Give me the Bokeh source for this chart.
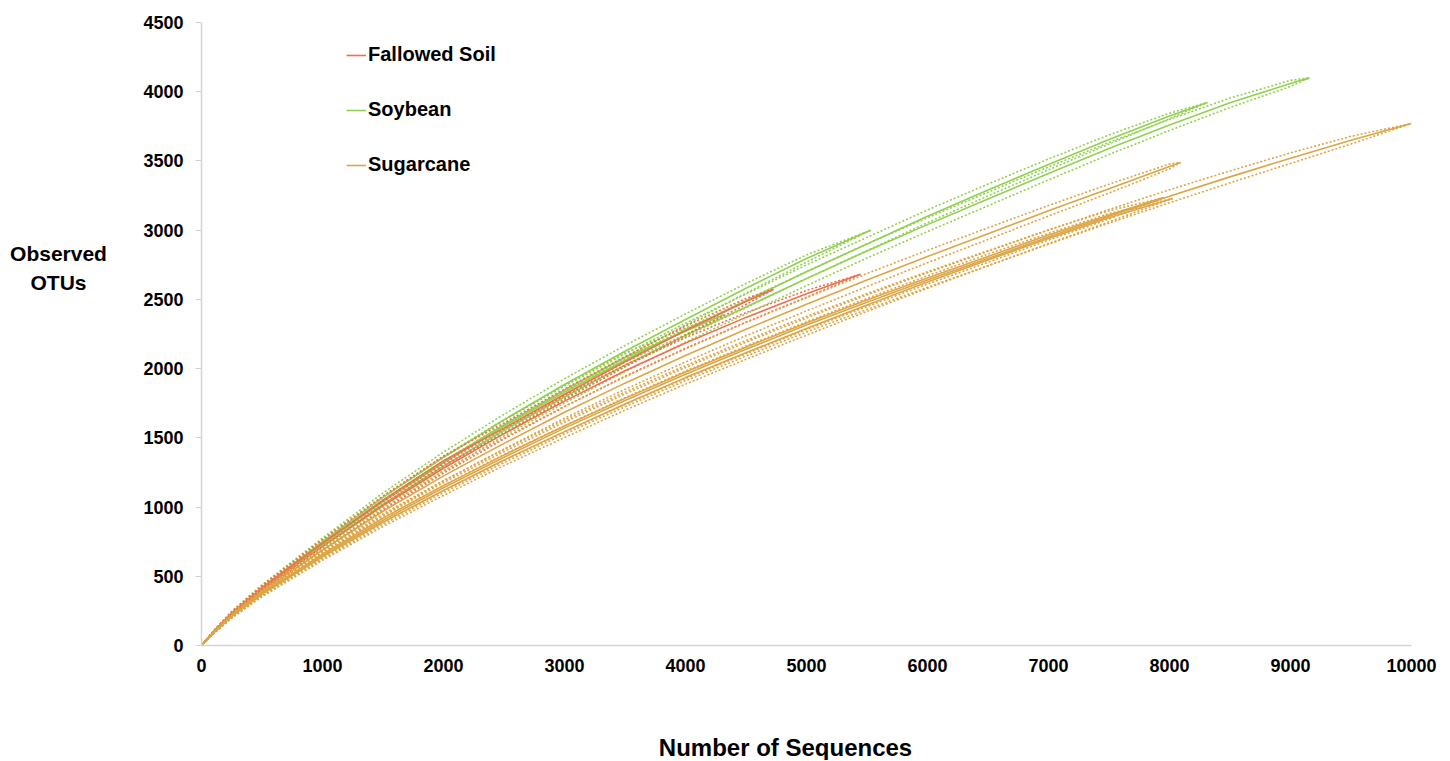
from bokeh.plotting import figure
from bokeh.models import Range1d, Legend, LegendItem, FixedTicker, Label
from bokeh.layouts import row, column
from bokeh.embed import file_html
from bokeh.resources import INLINE

# ---------------- data ----------------
groups = ["Fallowed Soil", "Soybean", "Sugarcane"]
colors = {"Fallowed Soil": "#F36E4C", "Soybean": "#92D050", "Sugarcane": "#DDA545"}

x_ticks = [0, 1000, 2000, 3000, 4000, 5000, 6000, 7000, 8000, 9000, 10000]
y_ticks = [0, 500, 1000, 1500, 2000, 2500, 3000, 3500, 4000, 4500]

# Soybean samples
soy1_x = [0, 100, 250, 500, 1000, 1500, 2000, 2500, 3000, 3500, 4000, 4500, 5000, 5530]
soy1_y = [0, 100, 235, 420, 750, 1070, 1360, 1630, 1885, 2125, 2355, 2580, 2795, 3000]
soy1_ci = [0, 6, 12, 18, 26, 32, 37, 40, 42, 42, 40, 35, 26, 0]

soy2_x = [0, 100, 250, 500, 1000, 1500, 2000, 2500, 3000, 3500, 4000, 4500, 5000, 5500,
          6000, 6500, 7000, 7500, 8000, 8314]
soy2_y = [0, 98, 228, 410, 730, 1040, 1320, 1585, 1830, 2060, 2280, 2490, 2700, 2900,
          3100, 3290, 3475, 3655, 3825, 3922]
soy2_ci = [0, 6, 12, 18, 26, 32, 37, 41, 44, 46, 48, 49, 49, 48, 46, 43, 39, 33, 20, 0]

soy3_x = [0, 100, 250, 500, 1000, 1500, 2000, 2500, 3000, 3500, 4000, 4500, 5000, 5500,
          6000, 6500, 7000, 7500, 8000, 8500, 9000, 9157]
soy3_y = [0, 97, 225, 405, 720, 1020, 1295, 1555, 1795, 2025, 2240, 2445, 2650, 2850,
          3040, 3225, 3410, 3590, 3760, 3920, 4060, 4100]
soy3_ci = [0, 6, 12, 18, 26, 32, 37, 41, 44, 47, 49, 50, 51, 51, 50, 49, 47, 44, 40, 34, 22, 0]

soy4_x = [0, 100, 250, 500, 1000, 1500, 2000, 2500, 3000, 3500, 4000, 4320]
soy4_y = [0, 99, 230, 412, 735, 1045, 1330, 1595, 1845, 2080, 2270, 2390]
soy4_ci = [0, 6, 12, 18, 26, 31, 35, 37, 37, 34, 24, 0]

# Fallowed soil samples
fal1_x = [0, 100, 250, 500, 1000, 1500, 2000, 2500, 3000, 3500, 4000, 4500, 5000, 5446]
fal1_y = [0, 98, 226, 405, 715, 1010, 1280, 1530, 1765, 1985, 2185, 2370, 2540, 2681]
fal1_ci = [0, 6, 12, 18, 25, 31, 35, 38, 40, 40, 38, 34, 25, 0]

fal2_x = [0, 100, 250, 500, 1000, 1500, 2000, 2500, 3000, 3500, 4000, 4500, 4727]
fal2_y = [0, 100, 232, 415, 740, 1050, 1335, 1570, 1815, 2050, 2275, 2485, 2572]
fal2_ci = [0, 6, 12, 18, 25, 30, 34, 37, 38, 37, 33, 22, 0]

# Sugarcane samples
sug1_x = [0, 100, 250, 500, 1000, 1500, 2000, 2500, 3000, 3500, 4000, 4500, 5000, 5500,
          6000, 6500, 7000, 7500, 8000, 8500, 9000, 9500, 10000]
sug1_y = [0, 92, 212, 375, 650, 905, 1140, 1360, 1570, 1770, 1960, 2140, 2315, 2480,
          2640, 2795, 2950, 3100, 3245, 3385, 3520, 3650, 3771]
sug1_ci = [0, 6, 12, 18, 25, 31, 36, 40, 43, 46, 48, 50, 51, 52, 52, 52, 51, 49, 47, 43, 38, 28, 0]

sug2_x = [0, 100, 250, 500, 1000, 1500, 2000, 2500, 3000, 3500, 4000, 4500, 5000, 5500,
          6000, 6500, 7000, 7500, 8000, 8091]
sug2_y = [0, 95, 220, 390, 690, 970, 1225, 1460, 1685, 1895, 2095, 2285, 2465, 2640,
          2810, 2975, 3140, 3300, 3460, 3489]
sug2_ci = [0, 6, 12, 18, 25, 31, 36, 40, 43, 45, 47, 48, 48, 47, 45, 42, 38, 32, 18, 0]

sug3_x = [0, 100, 250, 500, 1000, 1500, 2000, 2500, 3000, 3500, 4000, 4500, 5000, 5500,
          6000, 6500, 7000, 7500, 8025]
sug3_y = [0, 91, 210, 370, 640, 890, 1120, 1340, 1545, 1745, 1935, 2115, 2290, 2460,
          2625, 2785, 2940, 3090, 3229]
sug3_ci = [0, 6, 12, 18, 25, 31, 36, 40, 43, 45, 47, 48, 48, 47, 45, 42, 37, 30, 0]

sug4_x = [0, 100, 250, 500, 1000, 1500, 2000, 2500, 3000, 3500, 4000, 4500, 5000, 5500,
          6000, 6500, 7000, 7500, 7950]
sug4_y = [0, 93, 215, 380, 660, 920, 1155, 1375, 1585, 1785, 1975, 2155, 2330, 2495,
          2655, 2810, 2965, 3110, 3235]
sug4_ci = [0, 6, 12, 18, 25, 31, 36, 40, 43, 45, 47, 48, 48, 47, 45, 42, 37, 30, 0]

series = [
    ("Soybean", soy1_x, soy1_y, soy1_ci),
    ("Soybean", soy2_x, soy2_y, soy2_ci),
    ("Soybean", soy3_x, soy3_y, soy3_ci),
    ("Soybean", soy4_x, soy4_y, soy4_ci),
    ("Fallowed Soil", fal1_x, fal1_y, fal1_ci),
    ("Fallowed Soil", fal2_x, fal2_y, fal2_ci),
    ("Sugarcane", sug1_x, sug1_y, sug1_ci),
    ("Sugarcane", sug2_x, sug2_y, sug2_ci),
    ("Sugarcane", sug3_x, sug3_y, sug3_ci),
    ("Sugarcane", sug4_x, sug4_y, sug4_ci),
]

FONT = "Liberation Sans"


def text_panel(w, h):
    f = figure(width=w, height=h, output_backend="svg", toolbar_location=None,
               x_range=Range1d(0, w), y_range=Range1d(h, 0),
               x_axis_type=None, y_axis_type=None,
               min_border=0, min_border_left=0, min_border_right=0,
               min_border_top=0, min_border_bottom=0)
    f.outline_line_color = None
    f.xgrid.visible = False
    f.ygrid.visible = False
    return f


# ---------------- left panel: y-axis title ----------------
ylab = text_panel(120, 700)
for txt, yy in (("Observed", 259), ("OTUs", 292)):
    ylab.add_layout(Label(x=58, y=yy, text=txt, text_align="center", text_baseline="middle",
                          text_font=FONT, text_font_style="bold", text_font_size="21px",
                          text_color="black"))

# ---------------- main plot ----------------
p = figure(width=1330, height=700, output_backend="svg", toolbar_location=None,
           x_range=Range1d(0, 10000), y_range=Range1d(0, 4500),
           min_border_left=81, min_border_right=39, min_border_top=22, min_border_bottom=55)
p.outline_line_color = None
p.xgrid.visible = False
p.ygrid.visible = False
p.background_fill_color = "white"

first = {}
for g, xs, ys, ci in series:
    c = colors[g]
    up = [y + d for y, d in zip(ys, ci)]
    lo = [y - d for y, d in zip(ys, ci)]
    p.line(xs, up, line_color=c, line_width=1.6, line_dash="2 2")
    p.line(xs, lo, line_color=c, line_width=1.6, line_dash="2 2")
    r = p.line(xs, ys, line_color=c, line_width=1.6)
    if g not in first:
        first[g] = r

for ax in (p.xaxis[0], p.yaxis[0]):
    ax.axis_line_color = "#D4D4D4"
    ax.axis_line_width = 1.5
    ax.major_label_text_font = FONT
    ax.major_label_text_font_style = "bold"
    ax.major_label_text_font_size = "18px"
    ax.major_label_text_color = "black"
    ax.minor_tick_line_color = None

p.xaxis[0].ticker = FixedTicker(ticks=x_ticks)
p.yaxis[0].ticker = FixedTicker(ticks=y_ticks)
p.xaxis[0].major_tick_line_color = None
p.xaxis[0].major_tick_out = 0
p.xaxis[0].major_tick_in = 0
p.xaxis[0].major_label_standoff = 13
p.yaxis[0].major_tick_line_color = "#D4D4D4"
p.yaxis[0].major_tick_out = 6
p.yaxis[0].major_tick_in = 0
p.yaxis[0].major_label_standoff = 12

legend = Legend(items=[LegendItem(label=g, renderers=[first[g]]) for g in groups],
                location=(145, 469), orientation="vertical",
                border_line_color=None, background_fill_alpha=0,
                padding=0, margin=0, spacing=32, label_height=20, glyph_height=20,
                glyph_width=20, label_standoff=2,
                label_text_font=FONT, label_text_font_style="bold",
                label_text_font_size="20px", label_text_color="black")
p.add_layout(legend, "center")

# ---------------- bottom panel: x-axis title ----------------
xlab = text_panel(1450, 60)
xlab.add_layout(Label(x=785, y=47, text="Number of Sequences", text_align="center",
                      text_baseline="middle", text_font=FONT, text_font_style="bold",
                      text_font_size="24px", text_color="black"))

layout = column(row(ylab, p, spacing=0), xlab, spacing=0)
open("out.html", "w").write(file_html(layout, INLINE))
